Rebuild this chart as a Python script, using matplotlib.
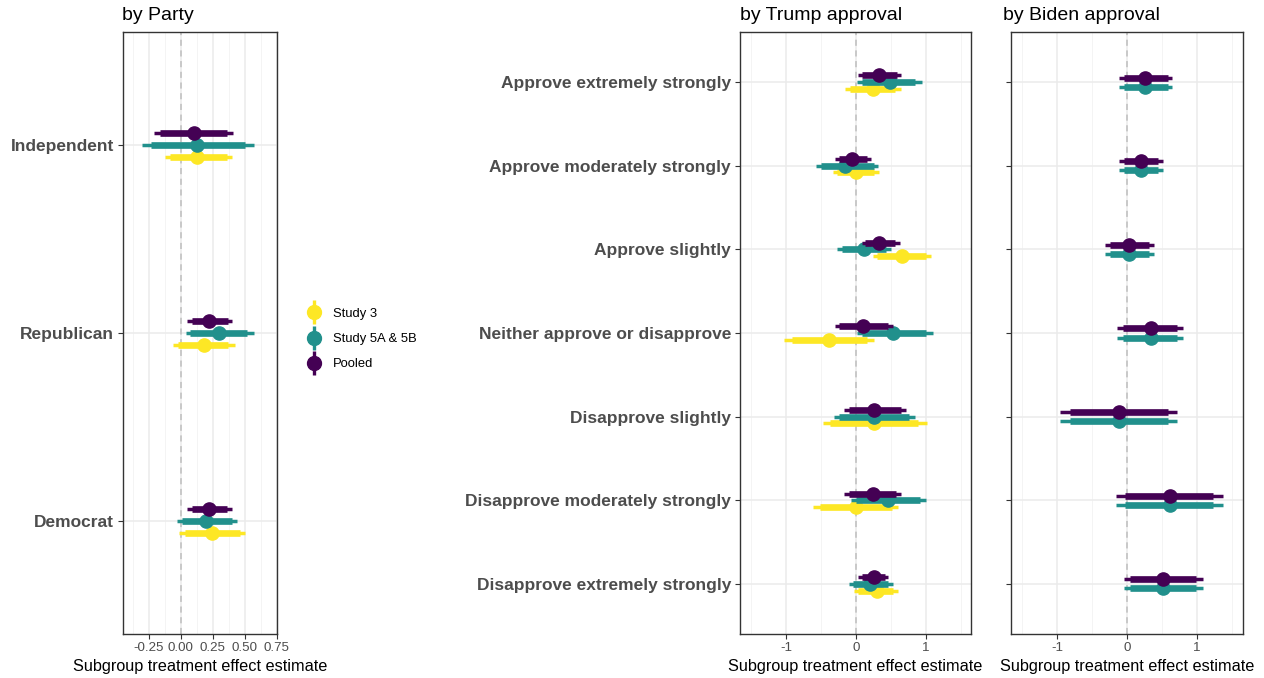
import numpy as np
import matplotlib
matplotlib.use("Agg")
import matplotlib.pyplot as plt
from matplotlib.lines import Line2D
from matplotlib.legend_handler import HandlerTuple

plt.rcParams['font.family'] = ['Liberation Sans', 'DejaVu Sans']

# colours (viridis ends + middle)
col_s3 = "#FDE725"
col_s5 = "#21908C"
col_pool = "#440154"

# ---- by Party ----
party_labels = ["Independent", "Republican", "Democrat"]

party_pool_est = [0.10, 0.22, 0.22]
party_pool_lo = [-0.21, 0.05, 0.05]
party_pool_hi = [0.41, 0.40, 0.40]
party_pool_tlo = [-0.16, 0.09, 0.09]
party_pool_thi = [0.36, 0.37, 0.36]

party_s5_est = [0.13, 0.30, 0.20]
party_s5_lo = [-0.30, 0.04, -0.03]
party_s5_hi = [0.57, 0.57, 0.44]
party_s5_tlo = [-0.23, 0.07, 0.01]
party_s5_thi = [0.50, 0.52, 0.40]

party_s3_est = [0.13, 0.18, 0.24]
party_s3_lo = [-0.12, -0.06, -0.01]
party_s3_hi = [0.40, 0.42, 0.50]
party_s3_tlo = [-0.08, -0.02, 0.03]
party_s3_thi = [0.36, 0.37, 0.46]

# ---- approval categories (top to bottom) ----
appr_labels = ["Approve extremely strongly", "Approve moderately strongly",
               "Approve slightly", "Neither approve or disapprove",
               "Disapprove slightly", "Disapprove moderately strongly",
               "Disapprove extremely strongly"]

trump_pool_est = [0.33, -0.06, 0.33, 0.10, 0.26, 0.24, 0.25]
trump_pool_lo = [0.02, -0.31, 0.08, -0.31, -0.18, -0.17, 0.03]
trump_pool_hi = [0.64, 0.21, 0.63, 0.53, 0.71, 0.64, 0.46]
trump_pool_tlo = [0.08, -0.25, 0.13, -0.25, -0.11, -0.11, 0.08]
trump_pool_thi = [0.58, 0.15, 0.56, 0.46, 0.64, 0.57, 0.41]

trump_s5_est = [0.48, -0.16, 0.11, 0.53, 0.26, 0.46, 0.20]
trump_s5_lo = [0.01, -0.58, -0.27, 0.01, -0.32, -0.08, -0.11]
trump_s5_hi = [0.94, 0.31, 0.50, 1.09, 0.84, 0.99, 0.52]
trump_s5_tlo = [0.08, -0.50, -0.20, 0.08, -0.25, 0.00, -0.05]
trump_s5_thi = [0.84, 0.25, 0.43, 1.00, 0.75, 0.91, 0.46]

trump_s3_est = [0.24, 0.00, 0.65, -0.39, 0.26, -0.01, 0.30]
trump_s3_lo = [-0.16, -0.33, 0.24, -1.03, -0.48, -0.62, -0.03]
trump_s3_hi = [0.64, 0.32, 1.07, 0.26, 1.01, 0.60, 0.60]
trump_s3_tlo = [-0.09, -0.27, 0.30, -0.92, -0.37, -0.52, 0.03]
trump_s3_thi = [0.56, 0.25, 1.00, 0.15, 0.88, 0.51, 0.53]

biden_pool_est = [0.26, 0.20, 0.03, 0.34, -0.11, 0.61, 0.52]
biden_pool_lo = [-0.11, -0.11, -0.31, -0.14, -0.96, -0.16, -0.04]
biden_pool_hi = [0.65, 0.51, 0.39, 0.80, 0.71, 1.37, 1.09]
biden_pool_tlo = [-0.05, -0.05, -0.25, -0.06, -0.81, -0.03, 0.04]
biden_pool_thi = [0.58, 0.45, 0.32, 0.72, 0.58, 1.23, 0.99]

biden_s5_est = [0.26, 0.20, 0.03, 0.34, -0.11, 0.61, 0.52]
biden_s5_lo = [-0.11, -0.11, -0.31, -0.14, -0.96, -0.16, -0.04]
biden_s5_hi = [0.65, 0.51, 0.39, 0.80, 0.71, 1.37, 1.09]
biden_s5_tlo = [-0.05, -0.05, -0.25, -0.06, -0.81, -0.03, 0.04]
biden_s5_thi = [0.58, 0.45, 0.32, 0.72, 0.58, 1.23, 0.99]

W, H = 1264, 678
fig = plt.figure(figsize=(W / 100, H / 100), dpi=100)


def px_axes(x0, x1, y0, y1):
    return fig.add_axes([x0 / W, 1 - y1 / H, (x1 - x0) / W, (y1 - y0) / H])


def style(ax, xlim, xmajor, xminor, ncat, labels, xticklabels):
    ax.set_xlim(*xlim)
    ax.set_ylim(0.4, ncat + 0.6)
    for v in xminor:
        ax.axvline(v, color="#F2F2F2", lw=0.6, zorder=0)
    for v in xmajor:
        ax.axvline(v, color="#EBEBEB", lw=1.1, zorder=0)
    for k in range(ncat):
        ax.axhline(k + 1, color="#EBEBEB", lw=1.1, zorder=0)
    ax.axvline(0, color="#BEBEBE", lw=1.1, ls=(0, (4, 3)), zorder=1)
    ax.set_xticks(xmajor)
    ax.set_xticklabels(xticklabels)
    ax.set_yticks(np.arange(ncat, 0, -1))
    if labels is None:
        ax.set_yticklabels([])
    else:
        ax.set_yticklabels(labels, fontsize=12.5, fontweight="bold", color="#4D4D4D")
    ax.tick_params(axis="x", labelsize=9.6, labelcolor="#4D4D4D", color="#333333",
                   length=3.5, width=0.8, pad=2)
    ax.tick_params(axis="y", color="#333333", length=3.5, width=0.8, pad=3)
    for s in ax.spines.values():
        s.set_color("#333333")
        s.set_linewidth(1.0)
    ax.set_xlabel("Subgroup treatment effect estimate", fontsize=11.7, labelpad=4)


def draw(ax, est, lo, hi, tlo, thi, offset, color, z):
    y = np.arange(len(est), 0, -1) + offset
    ax.hlines(y, lo, hi, color=color, lw=2.5, zorder=z)
    ax.hlines(y, tlo, thi, color=color, lw=4.8, zorder=z)
    ax.plot(est, y, "o", color=color, ms=9.5, zorder=z + 0.5)


# left panel
ax1 = px_axes(123, 277, 32, 634)
style(ax1, (-0.45, 0.75), [-0.25, 0, 0.25, 0.5, 0.75],
      [-0.375, -0.125, 0.125, 0.375, 0.625], 3, party_labels,
      ["-0.25", "0.00", "0.25", "0.50", "0.75"])
d1 = 0.065
draw(ax1, party_s3_est, party_s3_lo, party_s3_hi, party_s3_tlo, party_s3_thi, -d1, col_s3, 3)
draw(ax1, party_s5_est, party_s5_lo, party_s5_hi, party_s5_tlo, party_s5_thi, 0, col_s5, 4)
draw(ax1, party_pool_est, party_pool_lo, party_pool_hi, party_pool_tlo, party_pool_thi, d1, col_pool, 5)

# middle panel
ax2 = px_axes(740, 971, 32, 634)
style(ax2, (-1.66, 1.64), [-1, 0, 1], [-1.5, -0.5, 0.5, 1.5], 7, appr_labels,
      ["-1", "0", "1"])
d2 = 0.08
draw(ax2, trump_s3_est, trump_s3_lo, trump_s3_hi, trump_s3_tlo, trump_s3_thi, -d2, col_s3, 3)
draw(ax2, trump_s5_est, trump_s5_lo, trump_s5_hi, trump_s5_tlo, trump_s5_thi, 0, col_s5, 4)
draw(ax2, trump_pool_est, trump_pool_lo, trump_pool_hi, trump_pool_tlo, trump_pool_thi, d2, col_pool, 5)

# right panel
ax3 = px_axes(1011, 1243, 32, 634)
style(ax3, (-1.66, 1.66), [-1, 0, 1], [-1.5, -0.5, 0.5, 1.5], 7, None,
      ["-1", "0", "1"])
d3 = 0.055
draw(ax3, biden_s5_est, biden_s5_lo, biden_s5_hi, biden_s5_tlo, biden_s5_thi, -d3, col_s5, 4)
draw(ax3, biden_pool_est, biden_pool_lo, biden_pool_hi, biden_pool_tlo, biden_pool_thi, d3, col_pool, 5)

# titles
fig.text(122 / W, 1 - 16 / H, "by Party", fontsize=14, va="center", ha="left")
fig.text(740 / W, 1 - 16 / H, "by Trump approval", fontsize=14, va="center", ha="left")
fig.text(1003 / W, 1 - 16 / H, "by Biden approval", fontsize=14, va="center", ha="left")

# legend
handles = []
for c in [col_s3, col_s5, col_pool]:
    vline = Line2D([], [], marker="|", markersize=17, mew=2.4, color=c, linestyle="None")
    dot = Line2D([], [], marker="o", markersize=10, color=c, linestyle="None")
    handles.append((vline, dot))
fig.legend(handles, ["Study 3", "Study 5A & 5B", "Pooled"],
           handler_map={tuple: HandlerTuple(ndivide=1, pad=0)},
           loc="center left", bbox_to_anchor=(294 / W, 1 - 339 / H),
           frameon=False, fontsize=9.4, handlelength=1.3, handletextpad=0.75,
           labelspacing=1.0)

fig.savefig("out.png", dpi=100)
